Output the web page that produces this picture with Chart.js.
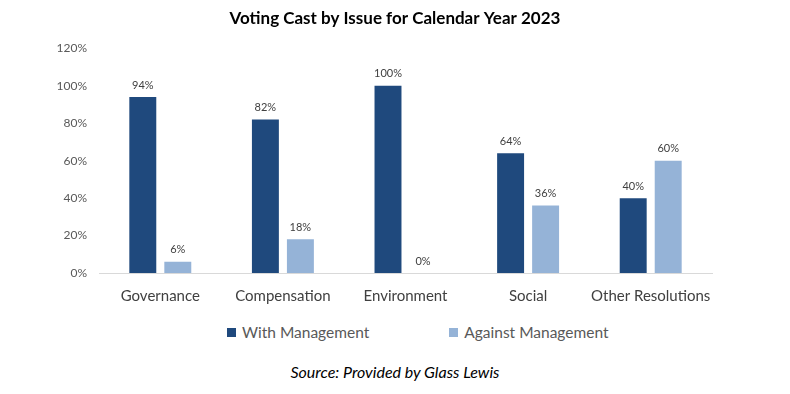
<!DOCTYPE html>
<html>
<head>
<meta charset="utf-8">
<script src="https://cdn.jsdelivr.net/npm/chart.js@4.4.0/dist/chart.umd.min.js"></script>
<style>
  body { margin: 0; background: #fff; font-family: Lato, sans-serif; }
  #wrap { width: 790px; height: 394px; position: relative; }
  #legend { display: flex; justify-content: flex-start; gap: 80px; position: absolute; top: 323px; left: 227px; font-size: 15.5px; color: #595959; }
  #legend span.box { display: inline-block; width: 9px; height: 9px; margin-right: 6px; vertical-align: 1px; }
  #source { position: absolute; top: 362px; left: 0; width: 790px; text-align: center; font-style: italic; font-size: 16px; color: #000; }
</style>
</head>
<body>
<div id="wrap">
  <canvas id="chart" width="790" height="319"></canvas>
  <div id="legend"></div>
  <div id="source">Source: Provided by Glass Lewis</div>
</div>
<script>
const categories = ['Governance', 'Compensation', 'Environment', 'Social', 'Other Resolutions'];
const withManagement = [94, 82, 100, 64, 40];
const againstManagement = [6, 18, 0, 36, 60];
const seriesNames = ['With Management', 'Against Management'];
const seriesColors = ['#1F497D', '#95B3D7'];

// draws value labels above each bar
const barLabels = {
  id: 'barLabels',
  afterDatasetsDraw(chart) {
    const ctx = chart.ctx;
    ctx.save();
    ctx.font = '11px Lato';
    ctx.fillStyle = '#404040';
    ctx.textAlign = 'center';
    ctx.textBaseline = 'middle';
    chart.data.datasets.forEach((ds, i) => {
      chart.getDatasetMeta(i).data.forEach((bar, j) => {
        ctx.fillText(ds.data[j] + '%', bar.x, bar.y - 12);
      });
    });
    ctx.restore();
  }
};

const chart = new Chart(document.getElementById('chart'), {
  type: 'bar',
  data: {
    labels: categories,
    datasets: [
      { label: seriesNames[0], data: withManagement, backgroundColor: seriesColors[0] },
      { label: seriesNames[1], data: againstManagement, backgroundColor: seriesColors[1] }
    ]
  },
  options: {
    responsive: false,
    animation: false,
    layout: { padding: 0 },
    datasets: { bar: { categoryPercentage: 0.571, barPercentage: 0.77 } },
    plugins: {
      legend: { display: false },
      tooltip: { enabled: false },
      title: {
        display: true,
        text: 'Voting Cast by Issue for Calendar Year 2023',
        color: '#000',
        font: { family: 'Lato', size: 17, weight: 'bold' },
        padding: { top: 8, bottom: 20 }
      }
    },
    scales: {
      x: {
        grid: { color: 'transparent', drawTicks: false },
        border: { color: '#d9d9d9', width: 1 },
        ticks: { color: '#404040', font: { family: 'Lato', size: 15 }, padding: 14, maxRotation: 0 }
      },
      y: {
        min: 0,
        max: 120,
        grid: { display: false, drawTicks: false },
        border: { display: false },
        ticks: {
          stepSize: 20,
          color: '#595959',
          font: { family: 'Lato', size: 12 },
          padding: 12,
          callback: v => v + '%'
        },
        afterFit(scale) { scale.width = 99; }
      },
      // empty right margin so the title stays centred on the page
      right: {
        position: 'right',
        grid: { display: false, drawTicks: false },
        border: { display: false },
        ticks: { display: false },
        afterFit(scale) { scale.width = 78; }
      }
    }
  },
  plugins: [barLabels]
});

const legend = document.getElementById('legend');
chart.data.datasets.forEach(ds => {
  const item = document.createElement('div');
  item.innerHTML = '<span class="box" style="background:' + ds.backgroundColor + '"></span>' + ds.label;
  legend.appendChild(item);
});
</script>
</body>
</html>
